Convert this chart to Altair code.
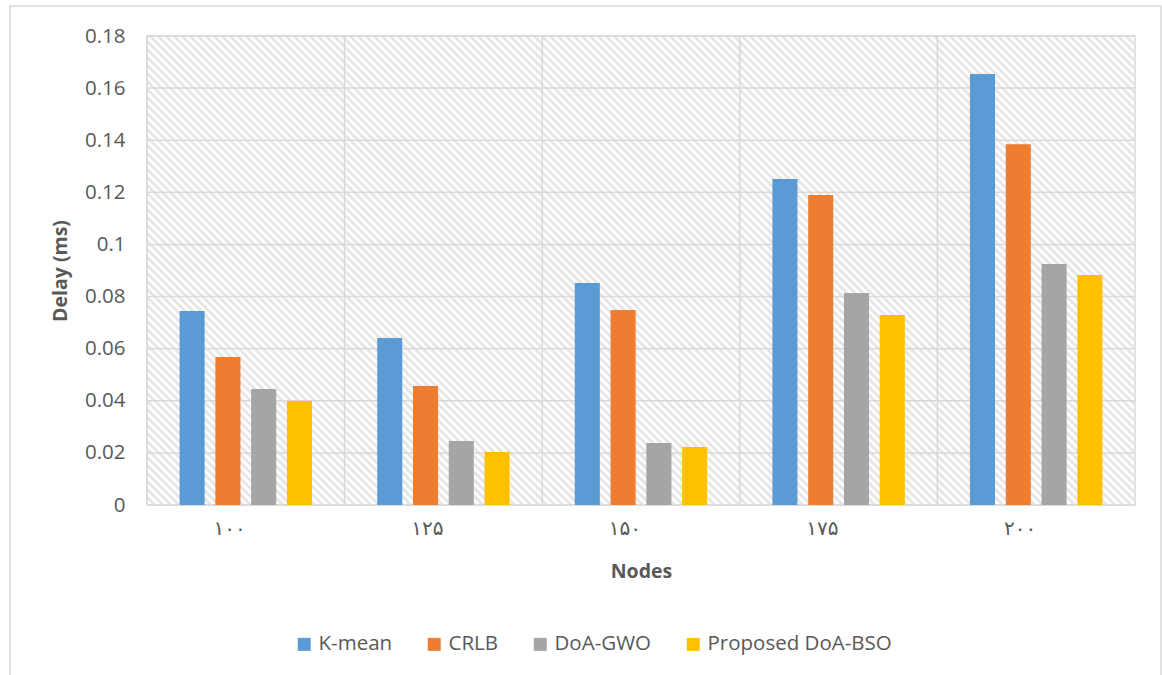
import altair as alt
import pandas as pd

nodes = ["۱۰۰", "۱۲۵", "۱۵۰", "۱۷۵", "۲۰۰"]
methods = ["K-mean", "CRLB", "DoA-GWO", "Proposed DoA-BSO"]
kmean = [0.0745, 0.0641, 0.0852, 0.1251, 0.1654]
crlb = [0.0568, 0.0457, 0.0748, 0.1190, 0.1385]
doa_gwo = [0.0445, 0.0246, 0.0238, 0.0814, 0.0925]
doa_bso = [0.0399, 0.0203, 0.0223, 0.0729, 0.0883]
colors = ["#5B9BD5", "#ED7D31", "#A5A5A5", "#FFC000"]
y_ticks = [0, 0.02, 0.04, 0.06, 0.08, 0.1, 0.12, 0.14, 0.16, 0.18]

series = [kmean, crlb, doa_gwo, doa_bso]
rows = []
for m, vals in zip(methods, series):
    for n, v in zip(nodes, vals):
        rows.append({"Nodes": n, "Method": m, "Delay": v})
df = pd.DataFrame(rows)

W, H = 988, 469
PAD_OUT = 0.165
STEP = W / len(nodes)
FONT = "Open Sans"
TXT = "#595959"
GRID = "#d9d9d9"

# hatched plot background (decoration)
hatch = (
    alt.Chart(alt.sequence(-H, W, 8, as_="s"))
    .transform_calculate(xa="datum.s", xb=f"datum.s + {H}", ya="0", yb=str(H))
    .mark_rule(stroke="#e6e6e6", strokeWidth=3, clip=True)
    .encode(
        x=alt.X("xa:Q", scale=None, axis=None),
        x2="xb:Q",
        y=alt.Y("ya:Q", scale=None, axis=None),
        y2="yb:Q",
    )
)

xenc = alt.X(
    "Nodes:N",
    sort=nodes,
    scale=alt.Scale(paddingInner=0.33, paddingOuter=PAD_OUT),
    title="Nodes",
    axis=alt.Axis(
        labelAngle=0, ticks=False, domain=False, grid=False,
        labelFontSize=20, labelColor=TXT, labelFont="DejaVu Sans", labelPadding=23,
        titleFontSize=19.5, titleFontWeight="bold", titleColor=TXT, titleFont=FONT,
        titlePadding=24,
    ),
)

hgrid = (
    alt.Chart(pd.DataFrame({"v": y_ticks}))
    .mark_rule(stroke=GRID, strokeWidth=1.5)
    .encode(y=alt.Y("v:Q"))
)
vgrid = (
    alt.Chart(pd.DataFrame({"Nodes": nodes}))
    .mark_rule(stroke=GRID, strokeWidth=1.5, xOffset=-PAD_OUT * STEP)
    .encode(x=alt.X("Nodes:N", sort=nodes, bandPosition=0))
)

bars = (
    alt.Chart(df)
    .mark_bar()
    .encode(
        x=xenc,
        xOffset=alt.XOffset("Method:N", sort=methods,
                            scale=alt.Scale(paddingInner=0.3, paddingOuter=0)),
        y=alt.Y(
            "Delay:Q",
            scale=alt.Scale(domain=[0, 0.18], nice=False),
            title="Delay (ms)",
            axis=alt.Axis(
                values=y_ticks, grid=False, ticks=False, domain=False,
                labelExpr="format(datum.value, '.2~f')",
                labelFontSize=20.5, labelColor=TXT, labelFont=FONT, labelPadding=22,
                titleFontSize=19.5, titleFontWeight="bold", titleColor=TXT, titleFont=FONT,
                titlePadding=14,
            ),
        ),
        color=alt.Color(
            "Method:N",
            sort=methods,
            scale=alt.Scale(domain=methods, range=colors),
            legend=alt.Legend(
                title=None, orient="none", legendX=147, legendY=598,
                direction="horizontal", symbolType="square", symbolSize=169,
                symbolStrokeWidth=0, labelFontSize=20.5, labelColor=TXT, labelFont=FONT,
                columnPadding=31, labelOffset=4, labelLimit=400,
            ),
        ),
    )
)

border = (
    alt.Chart(pd.DataFrame({"a": [0]}))
    .mark_rect(fill=None, stroke=GRID, strokeWidth=1.5)
    .encode(x=alt.value(-137), x2=alt.value(1014), y=alt.value(-30), y2=alt.value(680))
)

chart = (
    alt.layer(border, hatch, hgrid, vgrid, bars)
    .properties(
        width=W, height=H,
        autosize=alt.AutoSizeParams(type="none"),
        padding={"left": 147, "top": 36, "right": 27, "bottom": 170},
        background="white",
    )
    .configure_view(stroke=GRID, strokeWidth=1.5)
)

chart.save("out.html", embed_options={"renderer": "svg", "actions": False})
